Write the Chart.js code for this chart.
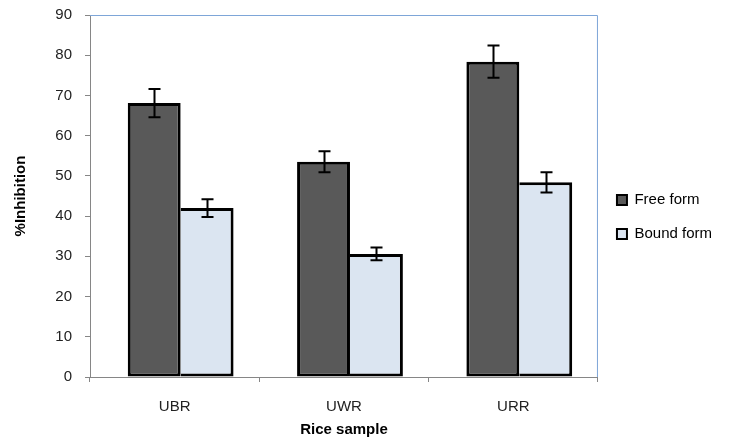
<!DOCTYPE html>
<html>
<head>
<meta charset="utf-8">
<script src="https://cdn.jsdelivr.net/npm/chart.js@4/dist/chart.umd.min.js"></script>
<style>
  html, body { margin: 0; padding: 0; background: #fff; }
  #wrap { width: 749px; height: 441px; }
</style>
</head>
<body>
<div id="wrap"><canvas id="chart"></canvas></div>
<script>
// data
var samples = ["UBR", "UWR", "URR"];
var free_form = [68.1, 53.5, 78.4];
var free_err = [3.5, 2.6, 4.0];
var bound_form = [42.0, 30.6, 48.4];
var bound_err = [2.2, 1.6, 2.5];
var y_ticks = [0, 10, 20, 30, 40, 50, 60, 70, 80, 90];

var font_name = "'Liberation Sans', Arial, sans-serif";

// draws the +/- error bars on top of the bars
var errorBars = {
    id: 'errorBars',
    afterDatasetsDraw: function (chart) {
        var ctx = chart.ctx;
        var yScale = chart.scales.y;
        ctx.save();
        ctx.strokeStyle = '#000';
        ctx.lineWidth = 2;
        chart.data.datasets.forEach(function (ds, di) {
            var meta = chart.getDatasetMeta(di);
            meta.data.forEach(function (bar, i) {
                var v = ds.data[i], e = ds.errors[i];
                var top = yScale.getPixelForValue(v + e);
                var bot = yScale.getPixelForValue(v - e);
                var x = Math.round(bar.x) + 0.5;
                ctx.beginPath();
                ctx.moveTo(x, top); ctx.lineTo(x, bot);
                ctx.moveTo(x - 6, top); ctx.lineTo(x + 6, top);
                ctx.moveTo(x - 6, bot); ctx.lineTo(x + 6, bot);
                ctx.stroke();
            });
        });
        ctx.restore();
    }
};

// blue frame on top and right of the plot area
var plotFrame = {
    id: 'plotFrame',
    beforeDatasetsDraw: function (chart) {
        var a = chart.chartArea, ctx = chart.ctx;
        ctx.save();
        ctx.strokeStyle = '#7ea6d8';
        ctx.lineWidth = 1;
        ctx.beginPath();
        ctx.moveTo(a.left, a.top + 0.5);
        ctx.lineTo(a.right - 0.5, a.top + 0.5);
        ctx.lineTo(a.right - 0.5, a.bottom);
        ctx.stroke();
        ctx.restore();
    }
};

// legend a bit above the middle, bar groups sit a little right of the category centre
var layoutNudge = {
    id: 'layoutNudge',
    afterLayout: function (chart) {
        chart.legend.bottom -= 20;
        var xb = chart.scales.xb;
        xb.left += 6;
        xb.right += 6;
        xb.configure();
    }
};

new Chart(document.getElementById('chart'), {
    type: 'bar',
    data: {
        labels: samples,
        datasets: [{
            label: 'Free form',
            data: free_form,
            errors: free_err,
            xAxisID: 'xb',
            backgroundColor: '#595959',
            borderColor: '#000',
            borderWidth: 3,
            borderSkipped: false
        }, {
            label: 'Bound form',
            data: bound_form,
            errors: bound_err,
            xAxisID: 'xb',
            backgroundColor: '#dbe5f1',
            borderColor: '#000',
            borderWidth: { top: 3, right: 3, bottom: 3, left: 0 },
            borderSkipped: false
        }]
    },
    options: {
        responsive: true,
        maintainAspectRatio: false,
        animation: false,
        devicePixelRatio: 1,
        layout: { padding: { top: 15, right: 27, bottom: 2, left: 12 } },
        datasets: { bar: { categoryPercentage: 0.625, barPercentage: 1.0 } },
        plugins: {
            tooltip: { enabled: false },
            legend: {
                position: 'right',
                align: 'center',
                labels: {
                    font: { family: font_name, size: 15 },
                    color: '#000',
                    boxWidth: 10,
                    boxHeight: 10,
                    padding: 19,
                    generateLabels: function (chart) {
                        var items = Chart.defaults.plugins.legend.labels.generateLabels(chart);
                        items.forEach(function (it) { it.lineWidth = 2; it.strokeStyle = '#000'; });
                        return items;
                    }
                }
            }
        },
        scales: {
            x: {
                type: 'category',
                labels: samples,
                grid: { display: true, drawOnChartArea: false, offset: true, color: '#868686', tickLength: 5 },
                border: { color: '#868686' },
                ticks: { font: { family: font_name, size: 15 }, color: '#222', padding: 16 },
                title: {
                    display: true, text: 'Rice sample',
                    font: { family: font_name, size: 15, weight: 'bold' }, color: '#000', padding: { top: 5, bottom: 0 }
                },
                afterFit: function (s) { s.height = 62; }
            },
            xb: {
                type: 'category',
                labels: samples,
                position: 'bottom',
                display: false,
                offset: true
            },
            y: {
                min: 0, max: 90,
                afterBuildTicks: function (s) { s.ticks = y_ticks.map(function (v) { return { value: v }; }); },
                grid: { display: true, drawOnChartArea: false, color: '#868686', tickLength: 5 },
                border: { color: '#868686' },
                ticks: { font: { family: font_name, size: 15 }, color: '#222', padding: 13 },
                title: {
                    display: true, text: '%Inhibition',
                    font: { family: font_name, size: 15, weight: 'bold' }, color: '#000', padding: { top: 0, bottom: 8 }
                },
                afterFit: function (s) { s.width = 78; s.paddingTop = 0; s.paddingBottom = 0; }
            }
        }
    },
    plugins: [errorBars, plotFrame, layoutNudge]
});
</script>
</body>
</html>
